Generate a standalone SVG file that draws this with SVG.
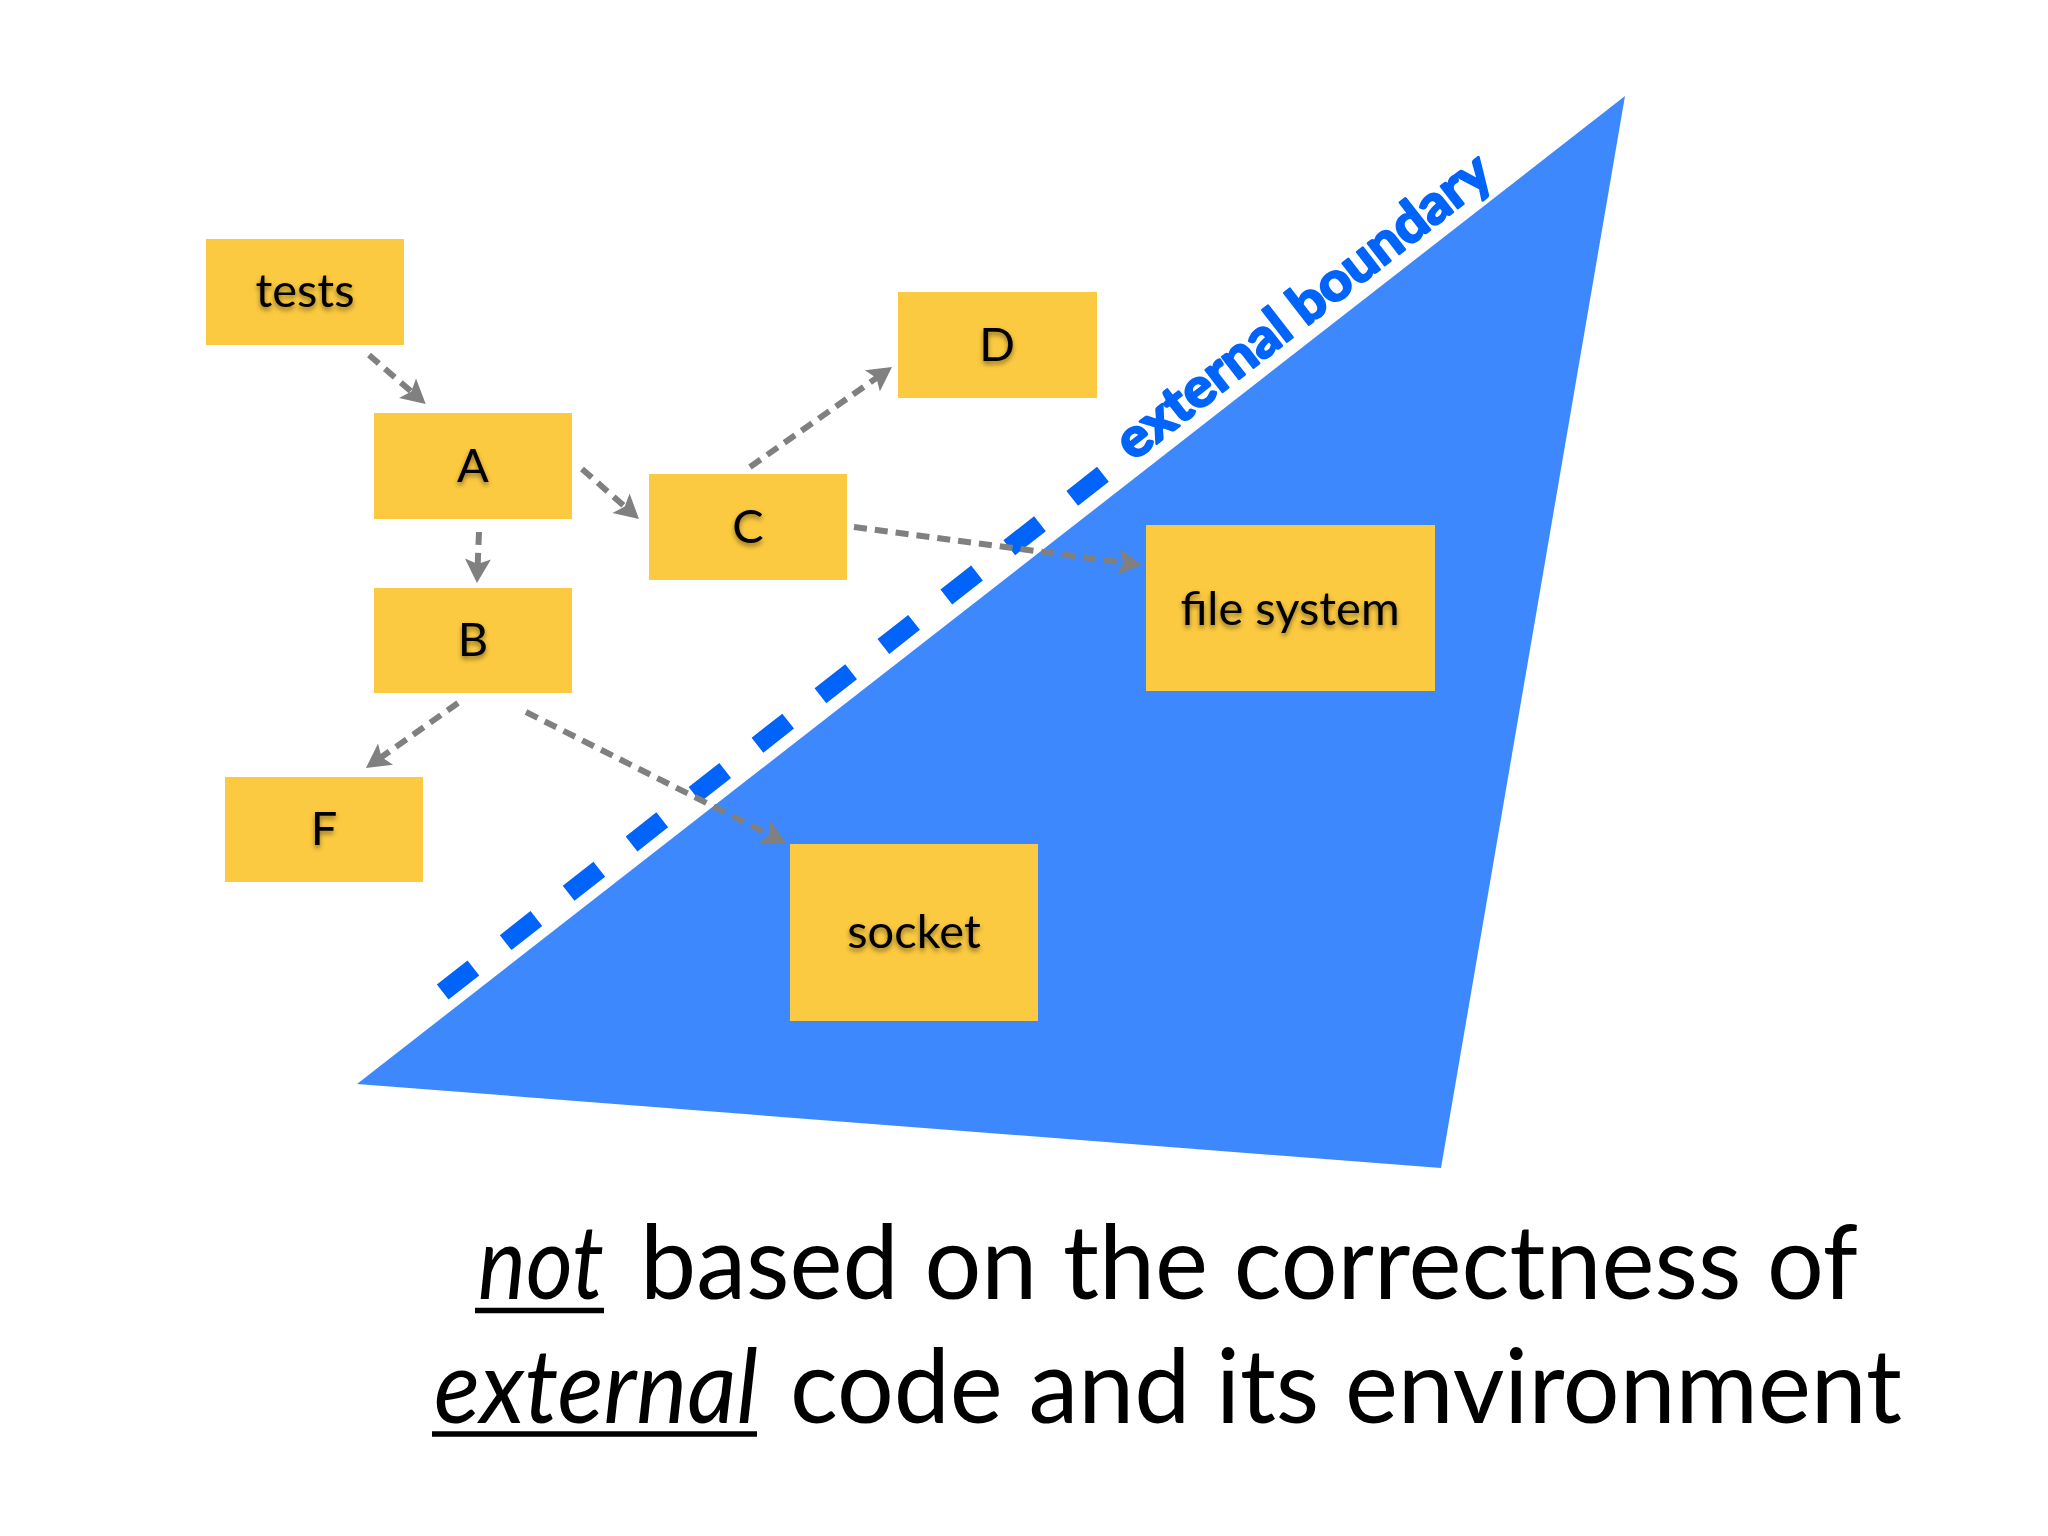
<svg xmlns="http://www.w3.org/2000/svg" width="2048" height="1536" viewBox="0 0 2048 1536">
  <style>
    .box { fill: #FCCA40; }
    .lbl { font-family: Lato, "Open Sans", "Liberation Sans", sans-serif; font-size: 47px; fill: #000; text-anchor: middle; filter: url(#ts); }
    .conn { fill: none; stroke: #808080; stroke-width: 6; stroke-dasharray: 13 8; marker-end: url(#arr); }
    .cap { font-family: Lato, "Open Sans", "Liberation Sans", sans-serif; font-size: 102px; fill: #000; }
    .it { font-style: italic; }
    .ul { stroke: #000; stroke-width: 5.5; }
  </style>
  <defs>
    <filter id="ts" x="-20%" y="-30%" width="140%" height="180%">
      <feDropShadow dx="0" dy="3" stdDeviation="2.5" flood-color="#000" flood-opacity="0.45"/>
    </filter>
    <marker id="arr" viewBox="-10 -14 30 28" refX="0" refY="0" markerWidth="30" markerHeight="28" markerUnits="userSpaceOnUse" orient="auto">
      <path d="M16,0 L-8,-13 L-3,0 L-8,13 Z" fill="#808080"/>
    </marker>
  </defs>
  <rect x="0" y="0" width="2048" height="1536" fill="#fff"/>

  <g id="external-region">
    <polygon points="357,1084 1625,96 1441,1168" fill="#3E88FD"/>
    <line x1="442.7" y1="992" x2="1103.3" y2="474" stroke="#0064FA" stroke-width="19" stroke-dasharray="39 41"/>
    <text transform="translate(1133,462) rotate(-38)" x="0" y="0" font-family="Lato, 'Open Sans', 'Liberation Sans', sans-serif" font-weight="bold" font-size="54" fill="#0064FA" stroke="#0064FA" stroke-width="2.5" stroke-linejoin="round" textLength="460" lengthAdjust="spacingAndGlyphs">external boundary</text>
  </g>

  <g id="node-tests">
    <rect class="box" x="206" y="239" width="198" height="106"/>
    <text class="lbl" x="305" y="307">tests</text>
  </g>
  <g id="node-A">
    <rect class="box" x="374" y="413" width="198" height="106"/>
    <text class="lbl" x="473" y="482">A</text>
  </g>
  <g id="node-B">
    <rect class="box" x="374" y="588" width="198" height="105"/>
    <text class="lbl" x="473" y="656">B</text>
  </g>
  <g id="node-C">
    <rect class="box" x="649" y="474" width="198" height="106"/>
    <text class="lbl" x="748" y="543">C</text>
  </g>
  <g id="node-D">
    <rect class="box" x="898" y="292" width="199" height="106"/>
    <text class="lbl" x="997" y="361">D</text>
  </g>
  <g id="node-F">
    <rect class="box" x="225" y="777" width="198" height="105"/>
    <text class="lbl" x="324" y="845">F</text>
  </g>
  <g id="node-filesystem">
    <rect class="box" x="1146" y="525" width="289" height="166"/>
    <text class="lbl" x="1290" y="625">file system</text>
  </g>
  <g id="node-socket">
    <rect class="box" x="790" y="844" width="248" height="177"/>
    <text class="lbl" x="914" y="948">socket</text>
  </g>

  <g id="connectors">
    <line class="conn" x1="369" y1="355" x2="413.6" y2="393.5"/>
    <line class="conn" x1="582" y1="469" x2="627" y2="508.5"/>
    <line class="conn" x1="479" y1="532" x2="477.6" y2="567"/>
    <line class="conn" x1="750" y1="467" x2="878.9" y2="376.2"/>
    <line class="conn" x1="854" y1="527" x2="1126.1" y2="562.9"/>
    <line class="conn" x1="458" y1="703" x2="379" y2="758.8"/>
    <line class="conn" x1="526" y1="712" x2="771.7" y2="835.8"/>
  </g>

  <g id="caption">
    <text class="cap it" x="478" y="1299" textLength="126" lengthAdjust="spacingAndGlyphs">not</text>
    <line class="ul" x1="475" y1="1310.5" x2="604" y2="1310.5"/>
    <text class="cap" x="640" y="1299" textLength="1218" lengthAdjust="spacingAndGlyphs">based on the correctness of</text>
    <text class="cap it" x="434" y="1423" textLength="324" lengthAdjust="spacingAndGlyphs">external</text>
    <line class="ul" x1="432" y1="1434" x2="757" y2="1434"/>
    <text class="cap" x="790" y="1423" textLength="1112" lengthAdjust="spacingAndGlyphs">code and its environment</text>
  </g>
</svg>
